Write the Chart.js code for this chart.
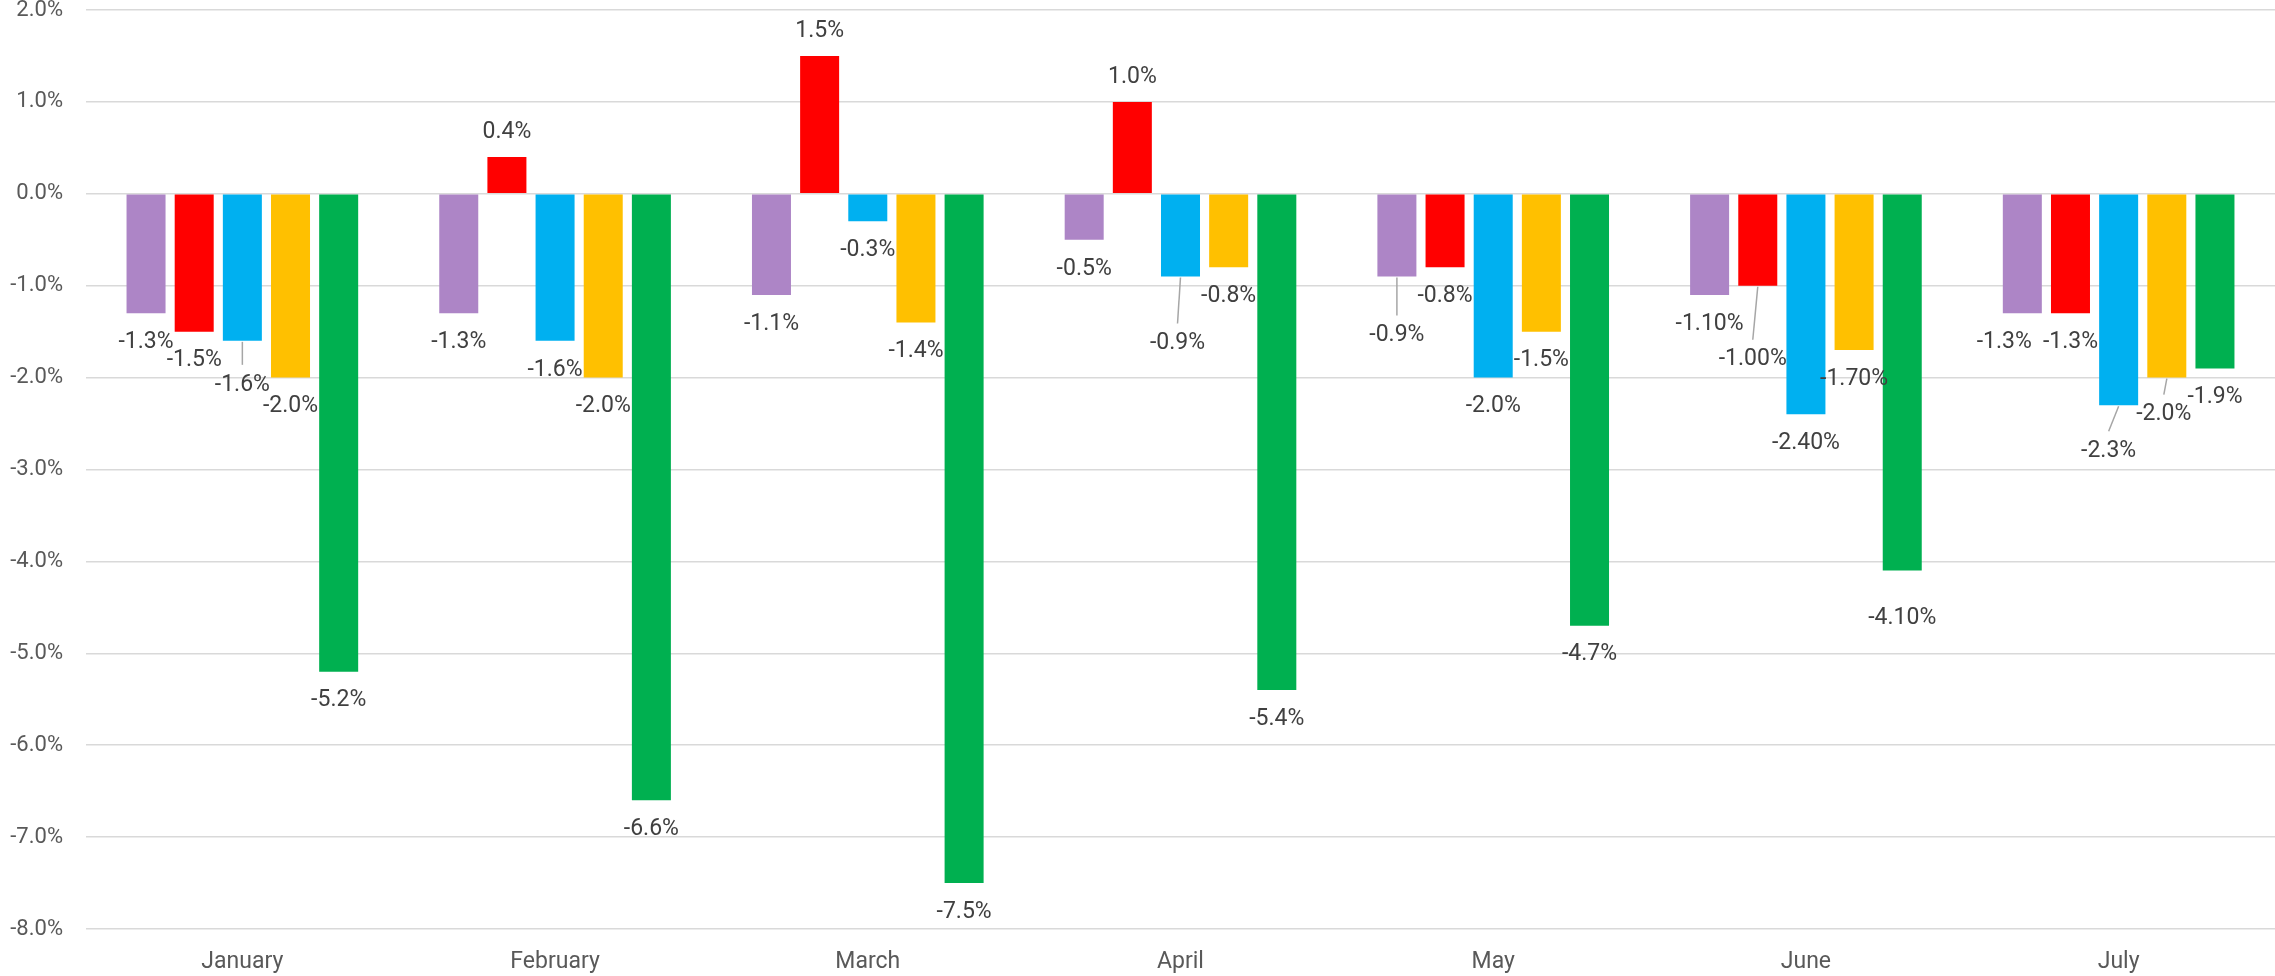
<!DOCTYPE html>
<html>
<head>
<meta charset="utf-8">
<script src="https://cdn.jsdelivr.net/npm/chart.js@4.4.1/dist/chart.umd.min.js"></script>
<style>
  html, body { margin: 0; padding: 0; background: #fff; }
  canvas { display: block; }
</style>
</head>
<body>
<canvas id="chart" width="2275" height="976"></canvas>
<script>
const months = ['January', 'February', 'March', 'April', 'May', 'June', 'July'];

const purpleSeries = [-1.3, -1.3, -1.1, -0.5, -0.9, -1.1, -1.3];
const redSeries    = [-1.5,  0.4,  1.5,  1.0, -0.8, -1.0, -1.3];
const blueSeries   = [-1.6, -1.6, -0.3, -0.9, -2.0, -2.4, -2.3];
const yellowSeries = [-2.0, -2.0, -1.4, -0.8, -1.5, -1.7, -2.0];
const greenSeries  = [-5.2, -6.6, -7.5, -5.4, -4.7, -4.1, -1.9];

// decimals shown in the value labels, per month
const labelDecimals = [1, 1, 1, 1, 1, 2, 1];

const yTicks = [2, 1, 0, -1, -2, -3, -4, -5, -6, -7, -8];

// small nudges for labels that got moved out of each other's way ("series-month": [dx, dy])
const labelNudge = {
  '2-0': [0, 15], '2-3': [-3, 38], '0-4': [0, 30], '1-5': [-5, 45],
  '4-5': [0, 19], '0-6': [-18, 0], '2-6': [-10, 17], '3-6': [-3, 8]
};
const leaderLines = ['2-0', '2-3', '0-4', '1-5', '2-6', '3-6'];

const FONT = 'Roboto, "Noto Sans", sans-serif';

const valueLabels = {
  id: 'valueLabels',
  afterDatasetsDraw(chart) {
    const ctx = chart.ctx;
    ctx.save();
    ctx.font = '23px ' + FONT;
    ctx.fillStyle = '#404040';
    ctx.textAlign = 'center';
    ctx.textBaseline = 'middle';
    chart.data.datasets.forEach((ds, i) => {
      chart.getDatasetMeta(i).data.forEach((bar, j) => {
        const v = ds.data[j];
        const key = i + '-' + j;
        const n = labelNudge[key] || [0, 0];
        const lx = bar.x + n[0];
        const ly = v < 0 ? bar.y + 29 + n[1] : bar.y - 25;
        if (leaderLines.includes(key)) {
          ctx.strokeStyle = '#a6a6a6';
          ctx.lineWidth = 1.5;
          ctx.beginPath();
          ctx.moveTo(bar.x, bar.y + 1);
          ctx.lineTo(lx, ly - 20);
          ctx.stroke();
        }
        ctx.fillText(v.toFixed(labelDecimals[j]) + '%', lx, ly);
      });
    });
    ctx.restore();
  }
};

function series(data, color) {
  return { data, backgroundColor: color, borderWidth: 0, barPercentage: 0.81, categoryPercentage: 0.77 };
}

new Chart(document.getElementById('chart'), {
  type: 'bar',
  data: {
    labels: months,
    datasets: [
      series(purpleSeries, '#ad85c6'),
      series(redSeries, '#ff0000'),
      series(blueSeries, '#00b0f0'),
      series(yellowSeries, '#ffc000'),
      series(greenSeries, '#00b050')
    ]
  },
  options: {
    responsive: false,
    animation: false,
    devicePixelRatio: 1,
    layout: { padding: { top: 10, right: 0, left: 0, bottom: 0 } },
    plugins: { legend: { display: false }, tooltip: { enabled: false } },
    scales: {
      x: {
        grid: { display: false },
        border: { display: false },
        ticks: { color: '#595959', font: { family: FONT, size: 23 }, padding: 11, maxRotation: 0 },
        afterFit(s) { s.height = 47; s.paddingLeft = 0; s.paddingRight = 0; }
      },
      y: {
        min: -8,
        max: 2,
        afterBuildTicks(s) { s.ticks = yTicks.map(v => ({ value: v })); },
        grid: { color: '#d9d9d9', lineWidth: 1.5, drawTicks: false },
        border: { display: false },
        ticks: {
          color: '#595959',
          font: { family: FONT, size: 22 },
          padding: 23,
          callback: v => v.toFixed(1) + '%'
        },
        afterFit(s) { s.width = 86; s.paddingTop = 0; s.paddingBottom = 0; }
      }
    }
  },
  plugins: [valueLabels]
});
</script>
</body>
</html>
